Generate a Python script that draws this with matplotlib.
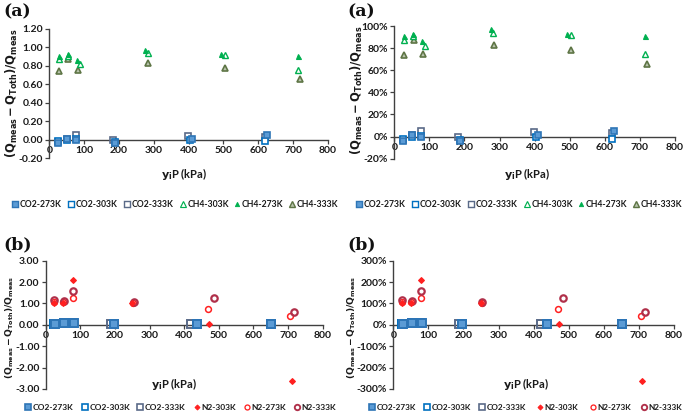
import matplotlib
matplotlib.use("Agg")
import matplotlib.pyplot as plt
from matplotlib.lines import Line2D
from matplotlib.ticker import FuncFormatter, MultipleLocator

plt.rcParams['font.family'] = ['Lato', 'DejaVu Sans']

# ---- Panel (a): CO2 and CH4 ----
co2a_273_x = [25, 50, 77, 188, 410, 625]
co2a_273_y = [-0.04, 0.01, 0.00, -0.04, 0.01, 0.05]
co2a_303_x = [25, 50, 77, 188, 403, 620]
co2a_303_y = [-0.02, 0.00, 0.005, -0.03, 0.00, -0.02]
co2a_333_x = [25, 50, 77, 182, 399, 620]
co2a_333_y = [-0.03, 0.01, 0.05, 0.00, 0.04, 0.03]

ch4_303_x = [28, 54, 88, 282, 503, 715]
ch4_303_y = [0.87, 0.91, 0.82, 0.94, 0.92, 0.75]
ch4_273_x = [28, 54, 80, 276, 493, 715]
ch4_273_y = [0.91, 0.93, 0.86, 0.97, 0.93, 0.91]
ch4_333_x = [28, 55, 81, 283, 504, 719]
ch4_333_y = [0.74, 0.87, 0.75, 0.83, 0.78, 0.655]

# ---- Panel (b): CO2 and N2 ----
co2b_273_x = [27, 54, 82, 197, 437, 652]
co2b_273_y = [0.04, 0.09, 0.08, 0.03, 0.06, 0.05]
co2b_303_x = [25, 52, 80, 197, 437, 652]
co2b_303_y = [0.03, 0.07, 0.07, 0.02, 0.05, 0.04]
co2b_333_x = [25, 54, 80, 188, 420, 652]
co2b_333_y = [0.05, 0.08, 0.09, 0.05, 0.04, 0.04]

n2_303_x = [24, 51, 80, 250, 472, 710]
n2_303_y = [1.02, 1.03, 2.10, 1.00, 0.05, -2.62]
n2_273_x = [24, 51, 80, 252, 470, 706]
n2_273_y = [1.08, 1.06, 1.25, 1.04, 0.72, 0.40]
n2_333_x = [25, 52, 80, 254, 485, 716]
n2_333_y = [1.16, 1.10, 1.60, 1.08, 1.25, 0.62]

labels_a = ['CO2-273K', 'CO2-303K', 'CO2-333K', 'CH4-303K', 'CH4-273K', 'CH4-333K']
labels_b = ['CO2-273K', 'CO2-303K', 'CO2-333K', 'N2-303K', 'N2-273K', 'N2-333K']

W, H = 685, 415
fig = plt.figure(figsize=(W / 100, H / 100), dpi=100)

def px_axes(x0, x1, y0, y1):
    return fig.add_axes([x0 / W, 1 - y1 / H, (x1 - x0) / W, (y1 - y0) / H])

AX_COL = '#404040'

def style(ax, ylo, yhi, step, fmt):
    ax.set_xlim(0, 800)
    ax.set_ylim(ylo, yhi)
    ax.spines['top'].set_visible(False)
    ax.spines['right'].set_visible(False)
    ax.spines['bottom'].set_position(('data', 0))
    for s in ('left', 'bottom'):
        ax.spines[s].set_color(AX_COL)
        ax.spines[s].set_linewidth(1.0)
    ax.xaxis.set_major_locator(MultipleLocator(100))
    ax.yaxis.set_major_locator(MultipleLocator(step))
    ax.yaxis.set_major_formatter(FuncFormatter(fmt))
    ax.tick_params(axis='both', colors=AX_COL, labelcolor='#1a1a1a',
                   labelsize=7.5, length=3, width=0.9, pad=1.5)
    for t in ax.get_xticklabels() + ax.get_yticklabels():
        t.set_fontweight('bold')
    ax.patch.set_alpha(0)

BLUE_F = '#5B9BD5'
BLUE_E = '#2E75B6'
BLUE_O = '#0070C0'
SLATE = '#5A6A88'
GREEN = '#00B050'
OLIVE_E = '#5E7545'
OLIVE_F = '#B9C4AE'
RED = '#FF2020'
MAROON = '#B0304A'

def co2_styles(big):
    ms = 5.2 if big else 4.6
    mew = 1.4 if big else 1.2
    return [
        dict(marker='s', ms=ms, mfc=BLUE_F, mec=BLUE_E, mew=mew, ls='none'),
        dict(marker='s', ms=ms, mfc='white', mec=BLUE_O, mew=mew, ls='none'),
        dict(marker='s', ms=ms, mfc='none', mec=SLATE, mew=mew, ls='none'),
    ]

ch4_styles = [
    dict(marker='^', ms=4.6, mfc='white', mec=GREEN, mew=1.0, ls='none'),
    dict(marker='^', ms=3.6, mfc=GREEN, mec=GREEN, mew=0.8, ls='none'),
    dict(marker='^', ms=4.6, mfc=OLIVE_F, mec=OLIVE_E, mew=1.2, ls='none'),
]
n2_styles = [
    dict(marker='D', ms=3.0, mfc=RED, mec=RED, mew=0.8, ls='none'),
    dict(marker='o', ms=4.2, mfc='white', mec=RED, mew=1.1, ls='none'),
    dict(marker='o', ms=4.6, mfc='none', mec=MAROON, mew=1.6, ls='none'),
]

def ylabel(x, y, fs):
    fig.text(x / W, 1 - y / H,
             r'$\mathbf{(Q_{meas}-Q_{Toth})/Q_{meas}}$',
             rotation=90, ha='center', va='center', fontsize=fs, color='#1a1a1a')

def xlabel(x, y):
    fig.text(x / W, 1 - y / H, r'$\mathbf{y_i}$' + 'P (kPa)', ha='center', va='center',
             fontsize=8, fontweight='bold', color='#1a1a1a')

def panel_letter(x, y, s):
    fig.text(x / W, 1 - y / H, s, ha='left', va='center', fontsize=12.5,
             fontweight='bold', family='DejaVu Serif', color='#111111')

def legend(styles, labels, xs, y, fs=6.2, legend_scale=0.85):
    for st, lab, x in zip(styles, labels, xs):
        st2 = dict(st)
        st2['ms'] = st['ms'] * legend_scale
        st2['mew'] = st['mew'] * legend_scale
        fig.add_artist(Line2D([x / W], [1 - y / H], transform=fig.transFigure, **st2))
        fig.text((x + 4.5) / W, 1 - y / H, lab, ha='left', va='center',
                 fontsize=fs, fontweight='bold', color='#1a1a1a')

def draw(ax, series, styles, order, scale):
    for i in order:
        xs, ys = series[i]
        ax.plot(xs, [v * scale for v in ys], **styles[i], zorder=3)

series_a = [
    (co2a_273_x, co2a_273_y), (co2a_303_x, co2a_303_y), (co2a_333_x, co2a_333_y),
    (ch4_303_x, ch4_303_y), (ch4_273_x, ch4_273_y), (ch4_333_x, ch4_333_y)]
styles_a = co2_styles(False) + ch4_styles
order_a = [2, 1, 0, 5, 3, 4]

series_b = [
    (co2b_273_x, co2b_273_y), (co2b_303_x, co2b_303_y), (co2b_333_x, co2b_333_y),
    (n2_303_x, n2_303_y), (n2_273_x, n2_273_y), (n2_333_x, n2_333_y)]
styles_b = co2_styles(True) + n2_styles
order_b = [2, 1, 0, 4, 5, 3]

f2 = lambda v, p: f'{v:.2f}'
fp = lambda v, p: f'{v:.0f}%'

# Top-left
ax1 = px_axes(49.3, 328, 29, 158)
style(ax1, -0.2, 1.2, 0.2, f2)
draw(ax1, series_a, styles_a, order_a, 1.0)
ylabel(12, 93, 8.3)
xlabel(184, 174)
panel_letter(3, 12, '(a)')
legend(styles_a, labels_a, [15, 70.7, 127, 183, 237, 292], 204)

# Top-right
ax2 = px_axes(394.3, 675, 26, 158.7)
style(ax2, -20, 100, 20, fp)
draw(ax2, series_a, styles_a, order_a, 100.0)
ylabel(357, 90, 8.3)
xlabel(527, 174)
panel_letter(347, 12, '(a)')
legend(styles_a, labels_a, [359, 415, 471, 527, 581, 636], 204)

# Bottom-left
ax3 = px_axes(45.7, 322.7, 260.7, 389)
style(ax3, -3, 3, 1, f2)
draw(ax3, series_b, styles_b, order_b, 1.0)
ylabel(10, 327, 6.6)
xlabel(174, 384)
panel_letter(3, 245, '(b)')
legend(styles_b, labels_b, [27.7, 85, 140, 197, 247, 297], 407, fs=6.0)

# Bottom-right
ax4 = px_axes(393.3, 674, 260.7, 389)
style(ax4, -300, 300, 100, fp)
draw(ax4, series_b, styles_b, order_b, 100.0)
ylabel(352, 327, 6.6)
xlabel(526, 384)
panel_letter(347, 245, '(b)')
legend(styles_b, labels_b, [372, 427, 482, 540, 593, 644], 407, fs=5.9)

fig.savefig('out.png', dpi=100)
